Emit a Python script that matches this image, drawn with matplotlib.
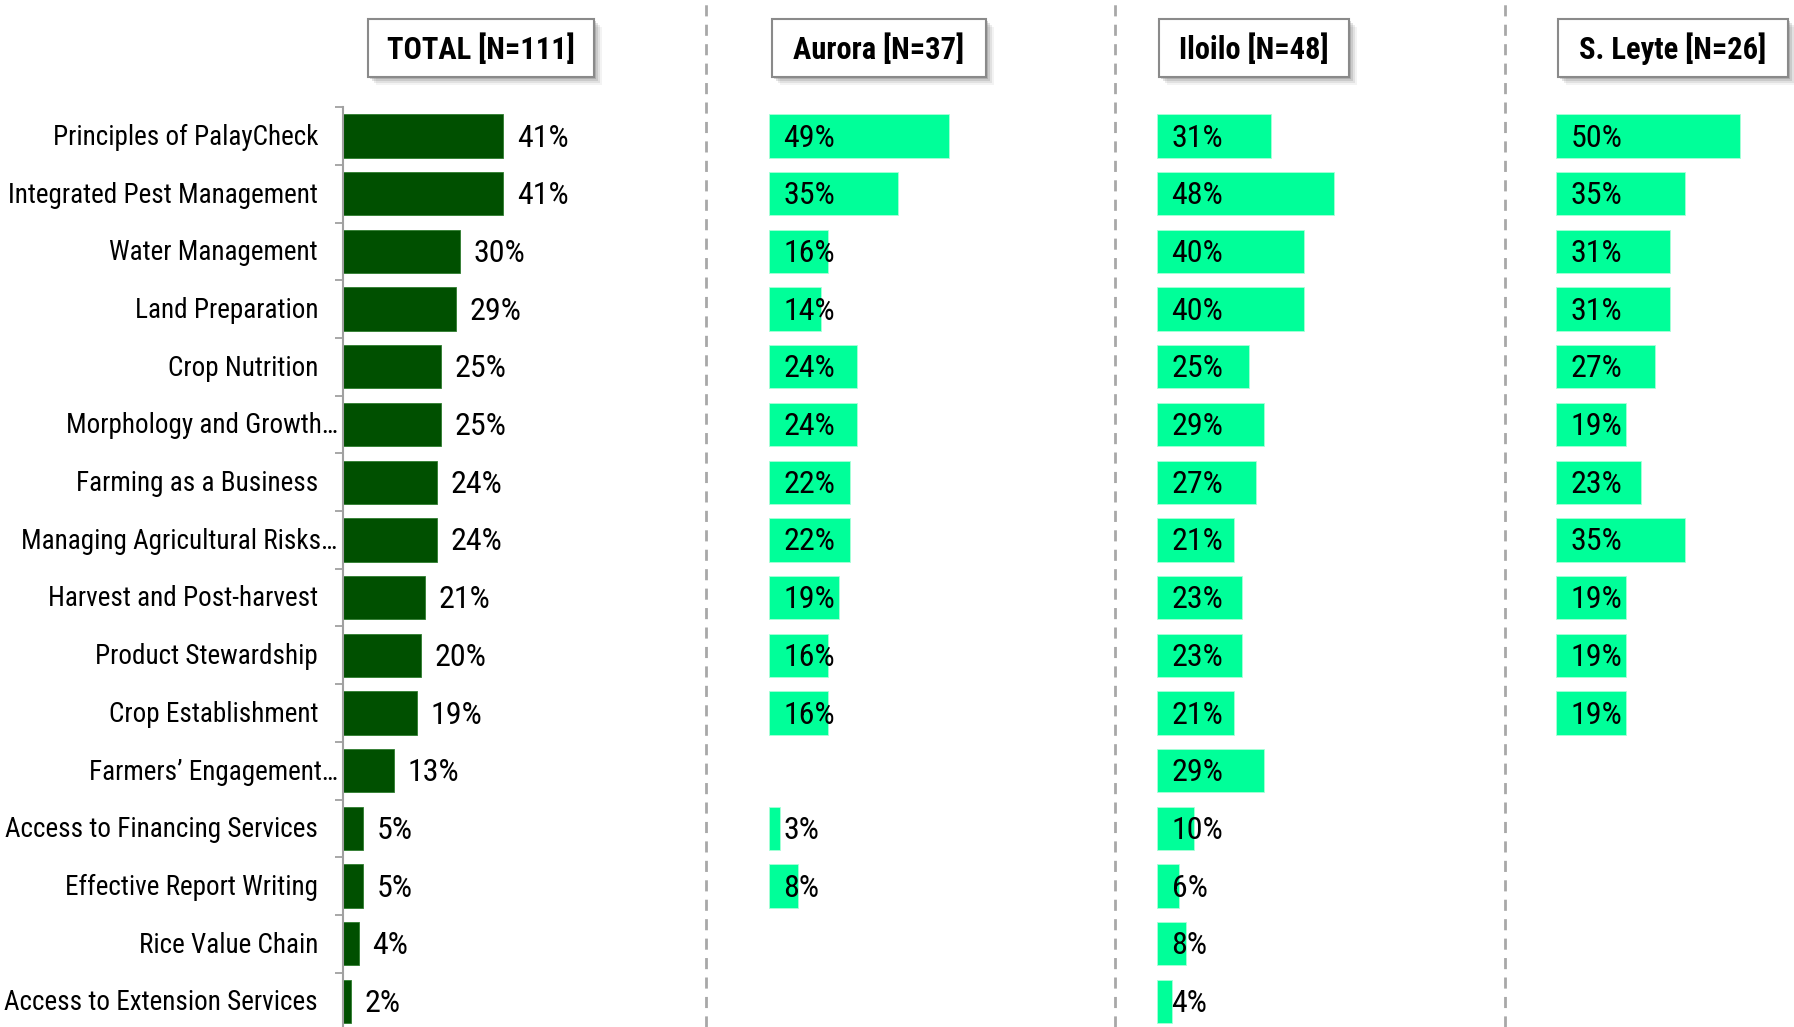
import numpy as np
import matplotlib.pyplot as plt
from matplotlib.patches import Rectangle

plt.rcParams['font.family'] = ['Roboto Condensed', 'PT Sans Narrow', 'Archivo Narrow', 'DejaVu Sans']

categories = ['Principles of PalayCheck', 'Integrated Pest Management', 'Water Management',
              'Land Preparation', 'Crop Nutrition', 'Morphology and Growth\u2026',
              'Farming as a Business', 'Managing Agricultural Risks\u2026',
              'Harvest and Post-harvest', 'Product Stewardship', 'Crop Establishment',
              'Farmers\u2019 Engagement\u2026', 'Access to Financing Services',
              'Effective Report Writing', 'Rice Value Chain', 'Access to Extension Services']
total = [41, 41, 30, 29, 25, 25, 24, 24, 21, 20, 19, 13, 5, 5, 4, 2]
aurora = [49, 35, 16, 14, 24, 24, 22, 22, 19, 16, 16, None, 3, 8, None, None]
iloilo = [31, 48, 40, 40, 25, 29, 27, 21, 23, 23, 21, 29, 10, 6, 8, 4]
leyte = [50, 35, 31, 31, 27, 19, 23, 35, 19, 19, 19, None, None, None, None, None]
headers = ['TOTAL [N=111]', 'Aurora [N=37]', 'Iloilo [N=48]', 'S. Leyte [N=26]']

W, H = 1794, 1027
DARK = '#005000'
MINT = '#00ff99'
LBL = 19.5   # category labels
VAL = 23     # value labels

fig = plt.figure(figsize=(W / 100, H / 100), dpi=100)


def px_axes(x0, width, y_top, y_bot):
    return fig.add_axes([x0 / W, 1 - y_bot / H, width / W, (y_bot - y_top) / H])


n = len(categories)
row_first, pitch = 136, 57.7
y_top = row_first - pitch / 2
y_bot = row_first + (n - 0.5) * pitch
y = np.arange(n)
XMAX = 60

# total panel
ax = px_axes(343, XMAX * 3.90, y_top, y_bot)
ax.barh(y, total, height=0.75, color=DARK, edgecolor='#2e7d2e', linewidth=0.6)
for yi, v in zip(y, total):
    ax.annotate(f'{v}%', (v, yi), xytext=(10, -1.5), textcoords='offset points',
                va='center', ha='left', fontsize=VAL)
# category labels; truncated ones run up to the axis line
for yi, lab in zip(y, categories):
    off = -4 if lab.endswith('\u2026') else -18
    ax.annotate(lab, (0, yi), xycoords=('axes fraction', 'data'), xytext=(off, -1),
                textcoords='offset points', va='center', ha='right', fontsize=LBL)
ax.set_xlim(0, XMAX)
ax.set_ylim(n - 0.5, -0.5)
ax.set_yticks([])
ax.set_yticks(np.arange(-0.5, n, 1), minor=True)
ax.tick_params(axis='y', which='minor', length=6, width=1.3, color='#a0a0a0', direction='out')
ax.set_xticks([])
for s in ['top', 'right', 'bottom']:
    ax.spines[s].set_visible(False)
ax.spines['left'].set_color('#a0a0a0')
ax.spines['left'].set_linewidth(1.5)
ax.patch.set_alpha(0)

# region panels
for x0, vals in [(769, aurora), (1157, iloilo), (1556, leyte)]:
    a = px_axes(x0, XMAX * 3.68, y_top, y_bot)
    yy = [yi for yi, v in zip(y, vals) if v is not None]
    vv = [v for v in vals if v is not None]
    a.barh(yy, vv, height=0.75, color=MINT, edgecolor='#a8ffd8', linewidth=0.6)
    for yi, v in zip(yy, vv):
        a.annotate(f'{v}%', (0, yi), xytext=(10.5, -1.5), textcoords='offset points',
                   va='center', ha='left', fontsize=VAL)
    a.set_xlim(0, XMAX)
    a.set_ylim(n - 0.5, -0.5)
    a.axis('off')

# dashed separators
for xs in [706, 1115, 1505]:
    fig.add_artist(plt.Line2D([xs / W, xs / W], [0, 1], transform=fig.transFigure,
                              color='#a8a8a8', lw=2, ls=(0, (4, 3))))

# header boxes with drop shadow
boxes = [(368, 594), (772, 986), (1159, 1349), (1558, 1788)]
bt, bb = 19, 77
for (bx0, bx1), label in zip(boxes, headers):
    for k, al in [(8, 0.08), (6, 0.12), (4, 0.18), (2, 0.25)]:
        fig.add_artist(Rectangle((bx0 / W + k / W, 1 - bb / H - k / H), (bx1 - bx0) / W,
                                 (bb - bt) / H, transform=fig.transFigure,
                                 facecolor='#666666', edgecolor='none', alpha=al))
    fig.add_artist(Rectangle((bx0 / W, 1 - bb / H), (bx1 - bx0) / W, (bb - bt) / H,
                             transform=fig.transFigure, facecolor='white',
                             edgecolor='#8a8a8a', lw=1.5))
    fig.text((bx0 + bx1) / 2 / W, 1 - (bt + bb) / 2 / H - 1 / H, label, ha='center',
             va='center', fontsize=22, fontweight='bold')

fig.savefig('out.png', dpi=100, facecolor='white')
